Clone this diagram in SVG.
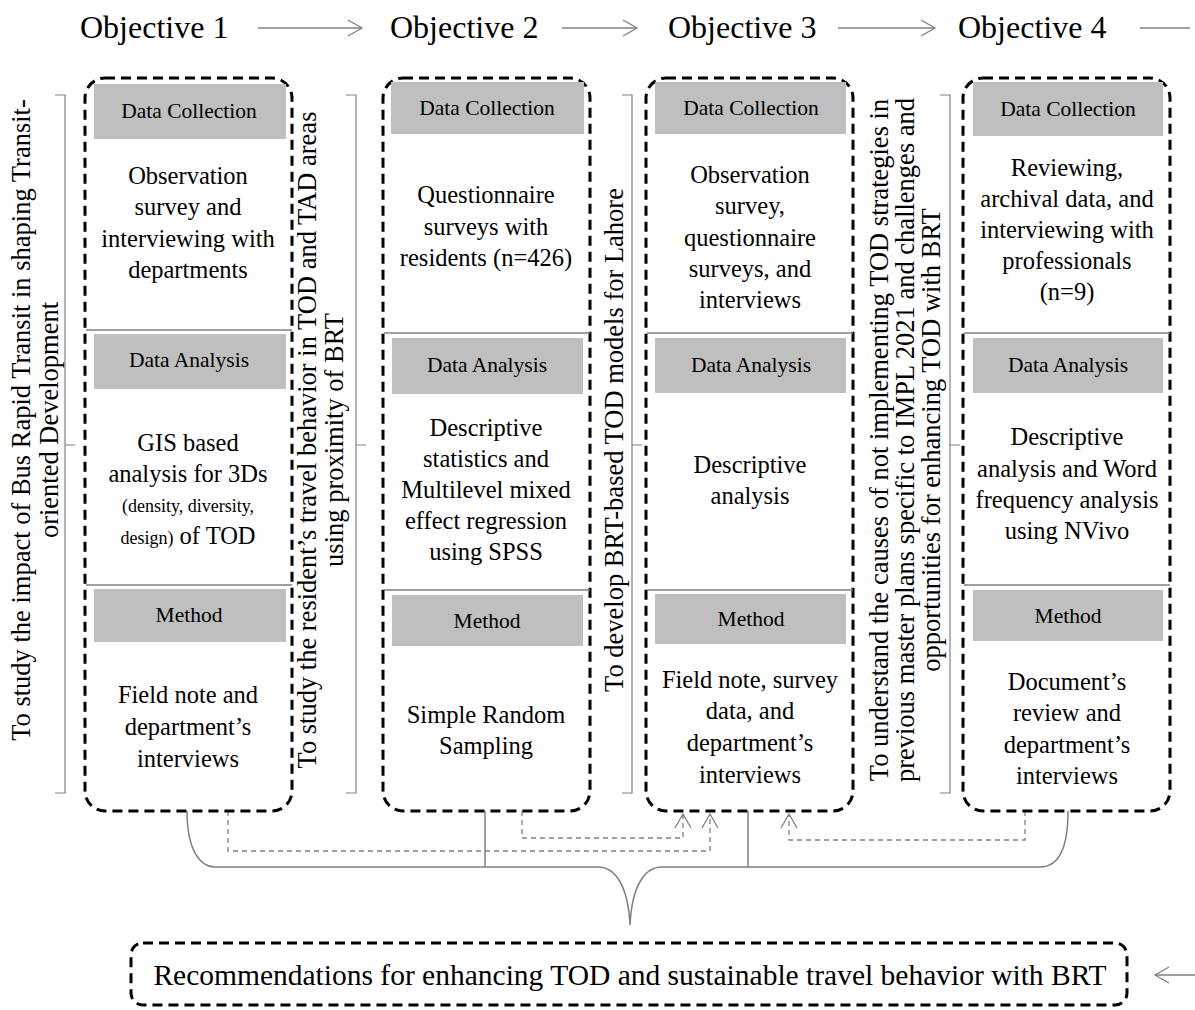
<svg xmlns="http://www.w3.org/2000/svg" width="1195" height="1010" viewBox="0 0 1195 1010">
<style>
.box{fill:none;stroke:#000;stroke-width:3;stroke-dasharray:10 6}
.hdr{fill:#bfbfbf}
.sep{stroke:#808080;stroke-width:1.5}
.t{font-family:"Liberation Serif","Times New Roman",serif;font-size:24.5px;text-anchor:middle;fill:#000}
.h{font-size:21.5px}
.s{font-size:18px}
.obj{font-family:"Liberation Serif","Times New Roman",serif;font-size:32px;fill:#000}
.v{font-family:"Liberation Serif","Times New Roman",serif;font-size:26.5px;text-anchor:middle;fill:#000}
.conn{stroke:#808080;fill:none;stroke-width:1.5}
.dconn{stroke:#808080;fill:none;stroke-width:1.3;stroke-dasharray:5 4}
.brk{stroke:#808080;fill:none;stroke-width:1.2}
</style>
<defs>
<marker id="ah" markerWidth="18" markerHeight="20" refX="16" refY="10" orient="auto" markerUnits="userSpaceOnUse">
<polyline points="2,2 16,10 2,18" fill="none" stroke="#808080" stroke-width="1.3"/>
</marker>
</defs>

<g id="objectives">
<text class="obj" x="80" y="38">Objective 1</text>
<text class="obj" x="390" y="38">Objective 2</text>
<text class="obj" x="668" y="38">Objective 3</text>
<text class="obj" x="958" y="38">Objective 4</text>
</g>

<g id="connectors">
<line class="conn" x1="258" y1="28" x2="362" y2="28" marker-end="url(#ah)"/>
<line class="conn" x1="562" y1="28" x2="637" y2="28" marker-end="url(#ah)"/>
<line class="conn" x1="838" y1="28" x2="935" y2="28" marker-end="url(#ah)"/>
<line class="conn" x1="1140" y1="28" x2="1190" y2="28"/>
<line class="conn" x1="1195" y1="975" x2="1155" y2="975" marker-end="url(#ah)"/>
<path class="conn" d="M187,811 C187,850 200,867 215,867 L598,867 C615,867 628,885 630,925 C632,885 645,867 662,867 L1040,867 C1058,867 1068,850 1068,811"/>
<line class="conn" x1="485" y1="811" x2="485" y2="867"/>
<line class="conn" x1="748" y1="811" x2="748" y2="867"/>
<path class="dconn" d="M228,811 V851 H710 V814" marker-end="url(#ah)"/>
<path class="dconn" d="M522,811 V838 H683 V814" marker-end="url(#ah)"/>
<path class="dconn" d="M1025,811 V840 H789 V814" marker-end="url(#ah)"/>
</g>

<g id="aim1">
<path class="brk" d="M55,95 H65 V793 H55 M65,445 H75"/>
<text class="v" transform="translate(30,420) rotate(-90)">To study the impact of Bus Rapid Transit in shaping Transit-</text>
<text class="v" transform="translate(58,420) rotate(-90)">oriented Development</text>
</g>
<g id="aim2">
<path class="brk" d="M346,95 H356 V793 H346 M356,445 H366"/>
<text class="v" transform="translate(316,440) rotate(-90)">To study the resident’s travel behavior in TOD and TAD areas</text>
<text class="v" transform="translate(343,440) rotate(-90)">using proximity of BRT</text>
</g>
<g id="aim3">
<path class="brk" d="M622,95 H632 V793 H622 M632,445 H642"/>
<text class="v" transform="translate(623,440) rotate(-90)">To develop BRT-based TOD models for Lahore</text>
</g>
<g id="aim4">
<path class="brk" d="M940,95 H950 V793 H940 M950,445 H960"/>
<text class="v" transform="translate(888,440) rotate(-90)">To understand the causes of not implementing TOD strategies in</text>
<text class="v" transform="translate(914,440) rotate(-90)">previous master plans specific to IMPL 2021 and challenges and</text>
<text class="v" transform="translate(940,440) rotate(-90)">opportunities for enhancing TOD with BRT</text>
</g>

<g id="col1">
<rect class="box" x="85" y="78" width="207" height="733" rx="20"/>
<rect class="hdr" x="94" y="84" width="192" height="55"/>
<text class="t h" x="189" y="118">Data Collection</text>
<text class="t" x="188" y="184">Observation</text>
<text class="t" x="188" y="215">survey and</text>
<text class="t" x="188" y="247">interviewing with</text>
<text class="t" x="188" y="278">departments</text>
<line class="sep" x1="86" y1="330" x2="292" y2="330"/>
<rect class="hdr" x="94" y="334" width="192" height="55"/>
<text class="t h" x="189" y="367">Data Analysis</text>
<text class="t" x="188" y="451">GIS based</text>
<text class="t" x="188" y="482">analysis for 3Ds</text>
<text class="t s" x="188" y="512">(density, diversity,</text>
<text class="t" x="188" y="544"><tspan class="s">design)</tspan> of TOD</text>
<line class="sep" x1="86" y1="585" x2="292" y2="585"/>
<rect class="hdr" x="94" y="589" width="192" height="53"/>
<text class="t h" x="189" y="622">Method</text>
<text class="t" x="188" y="703">Field note and</text>
<text class="t" x="188" y="735">department’s</text>
<text class="t" x="188" y="767">interviews</text>
</g>

<g id="col2">
<rect class="box" x="383" y="78" width="207" height="733" rx="20"/>
<rect class="hdr" x="391" y="82" width="193" height="52"/>
<text class="t h" x="487" y="115">Data Collection</text>
<text class="t" x="486" y="203">Questionnaire</text>
<text class="t" x="486" y="235">surveys with</text>
<text class="t" x="486" y="266">residents (n=426)</text>
<line class="sep" x1="384" y1="333" x2="590" y2="333"/>
<rect class="hdr" x="392" y="338" width="191" height="56"/>
<text class="t h" x="487" y="372">Data Analysis</text>
<text class="t" x="486" y="436">Descriptive</text>
<text class="t" x="486" y="467">statistics and</text>
<text class="t" x="486" y="498">Multilevel mixed</text>
<text class="t" x="486" y="529">effect regression</text>
<text class="t" x="486" y="560">using SPSS</text>
<line class="sep" x1="384" y1="590" x2="590" y2="590"/>
<rect class="hdr" x="392" y="595" width="191" height="51"/>
<text class="t h" x="487" y="628">Method</text>
<text class="t" x="486" y="723">Simple Random</text>
<text class="t" x="486" y="754">Sampling</text>
</g>

<g id="col3">
<rect class="box" x="646" y="78" width="207" height="733" rx="20"/>
<rect class="hdr" x="655" y="82" width="191" height="52"/>
<text class="t h" x="751" y="115">Data Collection</text>
<text class="t" x="750" y="183">Observation</text>
<text class="t" x="750" y="214">survey,</text>
<text class="t" x="750" y="246">questionnaire</text>
<text class="t" x="750" y="277">surveys, and</text>
<text class="t" x="750" y="308">interviews</text>
<line class="sep" x1="647" y1="333" x2="853" y2="333"/>
<rect class="hdr" x="655" y="338" width="191" height="55"/>
<text class="t h" x="751" y="372">Data Analysis</text>
<text class="t" x="750" y="473">Descriptive</text>
<text class="t" x="750" y="504">analysis</text>
<line class="sep" x1="647" y1="590" x2="853" y2="590"/>
<rect class="hdr" x="655" y="594" width="191" height="50"/>
<text class="t h" x="751" y="626">Method</text>
<text class="t" x="750" y="688">Field note, survey</text>
<text class="t" x="750" y="719">data, and</text>
<text class="t" x="750" y="751">department’s</text>
<text class="t" x="750" y="783">interviews</text>
</g>

<g id="col4">
<rect class="box" x="963" y="78" width="207" height="733" rx="20"/>
<rect class="hdr" x="973" y="82" width="190" height="54"/>
<text class="t h" x="1068" y="116">Data Collection</text>
<text class="t" x="1067" y="176">Reviewing,</text>
<text class="t" x="1067" y="207">archival data, and</text>
<text class="t" x="1067" y="238">interviewing with</text>
<text class="t" x="1067" y="269">professionals</text>
<text class="t" x="1067" y="300">(n=9)</text>
<line class="sep" x1="964" y1="333" x2="1170" y2="333"/>
<rect class="hdr" x="973" y="338" width="190" height="55"/>
<text class="t h" x="1068" y="372">Data Analysis</text>
<text class="t" x="1067" y="445">Descriptive</text>
<text class="t" x="1067" y="477">analysis and Word</text>
<text class="t" x="1067" y="508">frequency analysis</text>
<text class="t" x="1067" y="539">using NVivo</text>
<line class="sep" x1="964" y1="585" x2="1170" y2="585"/>
<rect class="hdr" x="973" y="590" width="190" height="51"/>
<text class="t h" x="1068" y="623">Method</text>
<text class="t" x="1067" y="690">Document’s</text>
<text class="t" x="1067" y="721">review and</text>
<text class="t" x="1067" y="753">department’s</text>
<text class="t" x="1067" y="784">interviews</text>
</g>

<g id="recommendations">
<rect class="box" x="131" y="943" width="996" height="62" rx="12"/>
<text class="t" x="630" y="985" style="font-size:29.5px">Recommendations for enhancing TOD and sustainable travel behavior with BRT</text>
</g>
</svg>
